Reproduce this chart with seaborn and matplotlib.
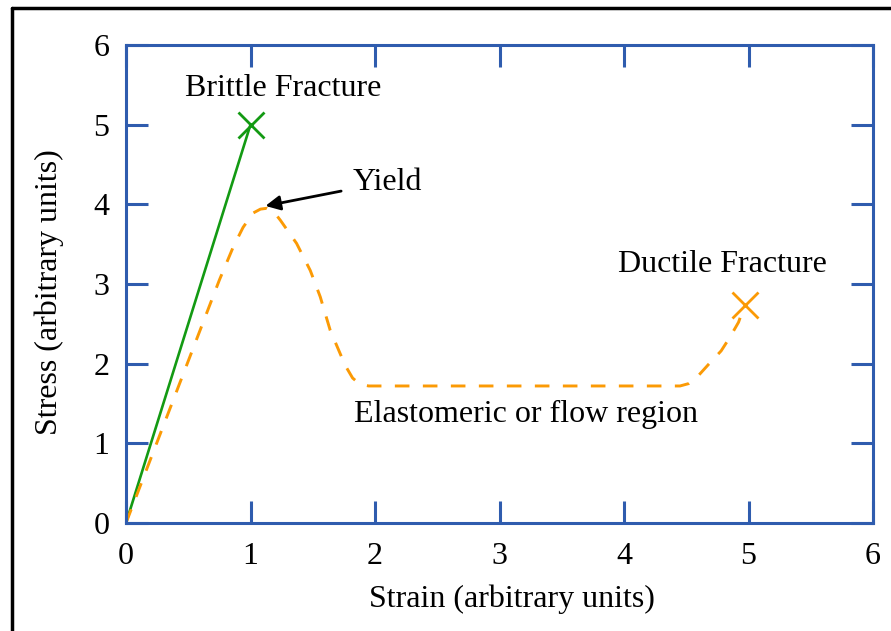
import numpy as np
import pandas as pd
import seaborn as sns
import matplotlib.pyplot as plt
from matplotlib.lines import Line2D

# brittle material: straight line up to fracture
brittle_strain = [0.0, 1.0]
brittle_stress = [0.0, 5.0]

# ductile material: yield peak, flow plateau, then hardening to fracture
ductile_strain = [0.0, 0.75, 0.86, 0.94, 1.02, 1.08, 1.13, 1.19, 1.24, 1.37, 1.48, 1.56,
                  1.64, 1.76, 1.82, 1.88, 1.95, 4.45, 4.52, 4.58, 4.69, 4.78, 4.85, 4.92, 4.97]
ductile_stress = [0.0, 3.05, 3.46, 3.71, 3.89, 3.94, 3.95, 3.90, 3.80, 3.51, 3.17, 2.84,
                  2.42, 1.98, 1.82, 1.74, 1.72, 1.72, 1.75, 1.82, 2.01, 2.16, 2.33, 2.52, 2.74]

brittle_break = (1.0, 5.0)
ductile_break = (4.97, 2.74)
yield_point = (1.12, 3.98)

ticks = [0, 1, 2, 3, 4, 5, 6]

sns.set_style("white")
plt.rcParams['font.family'] = ['Liberation Serif', 'DejaVu Serif']
plt.rcParams['text.color'] = 'black'
plt.rcParams['axes.labelcolor'] = 'black'
plt.rcParams['xtick.color'] = 'black'
plt.rcParams['ytick.color'] = 'black'

blue = '#2f5cae'
green = '#139a13'
orange = '#fb9a05'
fs = 23

fig = plt.figure(figsize=(8.91, 6.31), dpi=100)
ax = fig.add_axes([126/891, 1-523/631, (873-126)/891, (523-45)/631])

df_b = pd.DataFrame({'strain': brittle_strain, 'stress': brittle_stress})
df_d = pd.DataFrame({'strain': ductile_strain, 'stress': ductile_stress})

sns.lineplot(data=df_b, x='strain', y='stress', ax=ax, color=green, lw=1.9, sort=False)
sns.lineplot(data=df_d, x='strain', y='stress', ax=ax, color=orange, lw=2.1, sort=False)
ax.lines[-1].set_dashes((5.0, 4.6))

ax.plot(*brittle_break, marker='x', color=green, ms=19, mew=2)
ax.plot(*ductile_break, marker='x', color=orange, ms=19, mew=2)

ax.text(1.26, 5.46, 'Brittle Fracture', fontsize=fs, ha='center', va='center')
ax.text(4.79, 3.24, 'Ductile Fracture', fontsize=fs, ha='center', va='center')
ax.text(3.21, 1.36, 'Elastomeric or flow region', fontsize=fs, ha='center', va='center')
ax.annotate('Yield', xy=yield_point, xytext=(1.82, 4.28), fontsize=fs, ha='left', va='center',
            arrowprops=dict(arrowstyle='-|>', color='black', lw=2, mutation_scale=22,
                            shrinkA=6, shrinkB=0))

ax.set_xlim(0, 6)
ax.set_ylim(0, 6)
ax.set_xticks(ticks)
ax.set_yticks(ticks)
ax.set_xlabel('Strain (arbitrary units)', fontsize=fs)
ax.set_ylabel('Stress (arbitrary units)', fontsize=fs)
ax.xaxis.set_label_coords(0.516, -0.128)
ax.yaxis.set_label_coords(-0.0825, 0.483)

for s in ax.spines.values():
    s.set_visible(True)
    s.set_color(blue)
    s.set_linewidth(2.2)
ax.tick_params(direction='in', length=16, width=2.2, color=blue, labelsize=fs,
               bottom=True, left=True, top=True, right=True)
ax.tick_params(axis='x', pad=14)
ax.tick_params(axis='y', pad=12)

# outer frame around the figure (left and top edges visible)
fig.add_artist(Line2D([12/891, 12/891], [0, 1-8/631], color='black', lw=2.5))
fig.add_artist(Line2D([12/891, 1], [1-8/631, 1-8/631], color='black', lw=2.5))

plt.savefig('out.png', dpi=100)
